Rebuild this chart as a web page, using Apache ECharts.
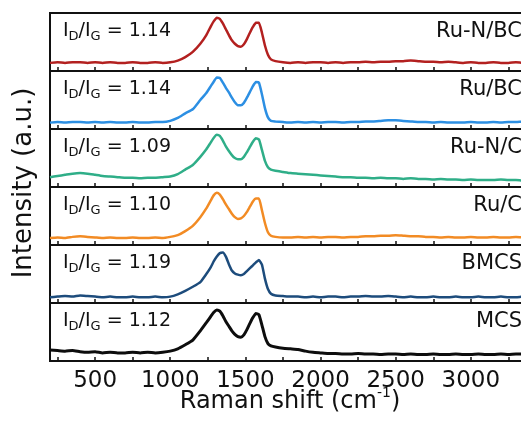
<!DOCTYPE html>
<html>
<head>
<meta charset="utf-8">
<script src="https://cdn.jsdelivr.net/npm/echarts@6/dist/echarts.min.js"></script>
<style>html,body{margin:0;padding:0;background:#fff;}#c{width:521px;height:430px;}</style>
</head>
<body>
<div id="c"></div>
<script>
// Raman shift positions (cm^-1)
const xs = [200,250,300,350,400,450,500,550,600,650,700,750,800,850,900,950,
  1000,1050,1100,1150,1200,1240,1270,
  1290,1310,1330,1350,1370,1390,1410,1430,1450,1470,1490,1510,1530,1550,1570,1590,1610,1630,1650,1670,
  1700,1750,1800,1850,1900,1950,2000,2050,2100,2150,2200,2250,2300,2350,2400,2450,2500,2550,2600,2650,
  2700,2750,2800,2850,2900,2950,3000,3050,3100,3150,3200,3250,3300,3350,3400,3450,3500];

const sampleNames = ["Ru-N/BC","Ru/BC","Ru-N/C","Ru/C","BMCS","MCS"];
const ratioLabels = ["1.14","1.14","1.09","1.10","1.19","1.12"];
const xTickLabels = [500,1000,1500,2000,2500,3000];
const xTicks = [250,500,750,1000,1250,1500,1750,2000,2250,2500,2750,3000,3250,3500];

const ruNBC = [0.14,0.15,0.14,0.15,0.15,0.14,0.15,0.14,0.15,0.14,0.14,0.15,0.14,0.14,0.15,0.14,
  0.15,0.18,0.24,0.33,0.47,0.62,0.77,
  0.86,0.92,0.9,0.82,0.72,0.62,0.53,0.47,0.43,0.42,0.46,0.55,0.66,0.76,0.83,0.83,0.66,0.44,0.28,0.2,
  0.17,0.15,0.14,0.15,0.14,0.15,0.15,0.14,0.15,0.14,0.15,0.15,0.16,0.15,0.16,0.16,0.17,0.17,0.18,0.17,
  0.16,0.16,0.15,0.16,0.15,0.14,0.15,0.14,0.14,0.15,0.14,0.14,0.15,0.14,0.14,0.15,0.14];
const ruBC = [0.11,0.12,0.11,0.12,0.12,0.11,0.12,0.11,0.12,0.11,0.11,0.12,0.11,0.11,0.12,0.12,
  0.14,0.19,0.27,0.34,0.5,0.62,0.74,
  0.82,0.89,0.88,0.8,0.71,0.63,0.54,0.46,0.41,0.41,0.45,0.54,0.64,0.74,0.81,0.8,0.6,0.36,0.2,0.14,
  0.13,0.12,0.11,0.12,0.11,0.12,0.11,0.12,0.12,0.11,0.12,0.12,0.13,0.13,0.14,0.15,0.15,0.14,0.13,0.12,
  0.12,0.11,0.12,0.11,0.11,0.11,0.12,0.11,0.11,0.12,0.11,0.12,0.12,0.13,0.12,0.12,0.12];
const ruNC = [0.17,0.19,0.21,0.23,0.24,0.23,0.21,0.19,0.18,0.17,0.16,0.16,0.15,0.16,0.16,0.17,
  0.18,0.22,0.3,0.38,0.52,0.65,0.77,
  0.85,0.9,0.88,0.8,0.7,0.62,0.55,0.5,0.48,0.48,0.52,0.6,0.69,0.78,0.84,0.82,0.64,0.45,0.34,0.3,
  0.28,0.26,0.24,0.23,0.22,0.21,0.2,0.19,0.18,0.17,0.17,0.16,0.16,0.15,0.16,0.15,0.15,0.14,0.15,0.14,
  0.14,0.13,0.14,0.13,0.13,0.12,0.13,0.12,0.12,0.12,0.13,0.12,0.12,0.11,0.12,0.12,0.11];
const ruC = [0.12,0.13,0.12,0.14,0.15,0.14,0.13,0.12,0.13,0.12,0.12,0.13,0.12,0.12,0.13,0.12,
  0.14,0.17,0.24,0.33,0.48,0.63,0.77,
  0.86,0.9,0.87,0.79,0.7,0.62,0.54,0.48,0.45,0.46,0.5,0.57,0.66,0.75,0.8,0.8,0.6,0.38,0.22,0.16,
  0.14,0.13,0.13,0.14,0.13,0.14,0.13,0.14,0.14,0.13,0.14,0.14,0.15,0.15,0.16,0.16,0.17,0.16,0.15,0.15,
  0.14,0.14,0.13,0.14,0.13,0.13,0.14,0.13,0.13,0.14,0.13,0.13,0.14,0.13,0.13,0.14,0.13];
const bmcs = [0.10,0.11,0.12,0.11,0.13,0.12,0.11,0.10,0.11,0.10,0.10,0.11,0.10,0.10,0.11,0.10,
  0.11,0.15,0.21,0.28,0.36,0.5,0.62,
  0.72,0.8,0.86,0.87,0.8,0.67,0.56,0.51,0.49,0.48,0.5,0.55,0.6,0.65,0.7,0.74,0.66,0.42,0.24,0.16,
  0.13,0.12,0.11,0.11,0.1,0.11,0.1,0.11,0.11,0.1,0.11,0.11,0.12,0.11,0.11,0.12,0.11,0.1,0.11,0.1,
  0.1,0.11,0.1,0.1,0.11,0.1,0.1,0.11,0.1,0.1,0.11,0.1,0.1,0.11,0.1,0.1,0.11];
const mcs = [0.19,0.18,0.17,0.18,0.16,0.15,0.16,0.14,0.15,0.14,0.14,0.15,0.14,0.15,0.14,0.15,
  0.17,0.21,0.28,0.36,0.52,0.66,0.77,
  0.84,0.88,0.86,0.78,0.68,0.6,0.52,0.46,0.42,0.41,0.45,0.54,0.65,0.75,0.82,0.8,0.62,0.42,0.3,0.26,
  0.24,0.22,0.21,0.2,0.17,0.15,0.14,0.13,0.13,0.12,0.12,0.13,0.12,0.12,0.11,0.12,0.12,0.11,0.12,0.11,
  0.11,0.12,0.11,0.11,0.12,0.11,0.11,0.12,0.11,0.11,0.12,0.11,0.12,0.12,0.11,0.12,0.12];

const seriesValues = [ruNBC, ruBC, ruNC, ruC, bmcs, mcs];
const colors = ["#b3201f","#2c8fe3","#2fae88","#f28b24","#1d4c7c","#0d0d0d"];
const widths = [2.5,2.5,2.5,2.5,2.5,3];

const FONT = "DejaVu Sans";
const TOP = 13, H = 58, LEFT = 50, W = 496;
const n = seriesValues.length;
const grids = [], xAxes = [], yAxes = [], series = [], graphics = [];
for (let i = 0; i < n; i++) {
  const top = TOP + i * H;
  grids.push({left: LEFT, top: top, width: W, height: H, show: true,
    borderColor: "#111", borderWidth: 2, backgroundColor: "transparent",
    containLabel: false, outerBoundsMode: "none"});
  xAxes.push({type: "value", gridIndex: i, min: 200, max: 3500,
    axisLine: {show: false},
    axisTick: {show: true, inside: true, length: 4, customValues: xTicks,
      lineStyle: {color: "#111", width: 1.5}},
    splitLine: {show: false},
    axisLabel: {show: i === n - 1, customValues: xTickLabels, margin: 9,
      formatter: v => String(v),
      fontFamily: FONT, fontSize: 23, color: "#111"}});
  yAxes.push({type: "value", gridIndex: i, min: 0, max: 1, show: false, splitLine: {show: false}});
  series.push({type: "line", xAxisIndex: i, yAxisIndex: i, symbol: "none", smooth: 0.15,
    lineStyle: {color: colors[i], width: widths[i]},
    data: xs.map((x, k) => [x, seriesValues[i][k]]), silent: true, animation: false});
  graphics.push({type: "text", x: 63, y: top + 18.5,
    style: {text: "{a|I}{s|D}{a|/I}{s|G}{a| = " + ratioLabels[i] + "}",
      verticalAlign: "middle", align: "left", fill: "#111",
      rich: {a: {fontFamily: FONT, fontSize: 19, lineHeight: 24, verticalAlign: "middle", fill: "#111"},
             s: {fontFamily: FONT, fontSize: 13, lineHeight: 10, verticalAlign: "bottom", fill: "#111"}}}});
  graphics.push({type: "text", x: 522, y: top + 19,
    style: {text: sampleNames[i], align: "right", verticalAlign: "middle",
      fontFamily: FONT, fontSize: 21, fill: "#111"}});
}
graphics.push({type: "text", x: 290, y: 401.5,
  style: {text: "{a|Raman shift (cm}{s|-1}{a|)}", align: "center", verticalAlign: "middle", fill: "#111",
    rich: {a: {fontFamily: FONT, fontSize: 24, lineHeight: 30, verticalAlign: "middle", fill: "#111"},
           s: {fontFamily: FONT, fontSize: 14, lineHeight: 14, verticalAlign: "top", fill: "#111"}}}});
graphics.push({type: "text", x: 24, y: 183, rotation: Math.PI / 2,
  style: {text: "Intensity (a.u.)", align: "center", verticalAlign: "middle",
    fontFamily: FONT, fontSize: 26, fill: "#111"}});

const chart = echarts.init(document.getElementById("c"), null, {renderer: "canvas"});
chart.setOption({
  animation: false,
  backgroundColor: "#fff",
  grid: grids, xAxis: xAxes, yAxis: yAxes, series: series,
  graphic: {elements: graphics}
});
</script>
</body>
</html>
